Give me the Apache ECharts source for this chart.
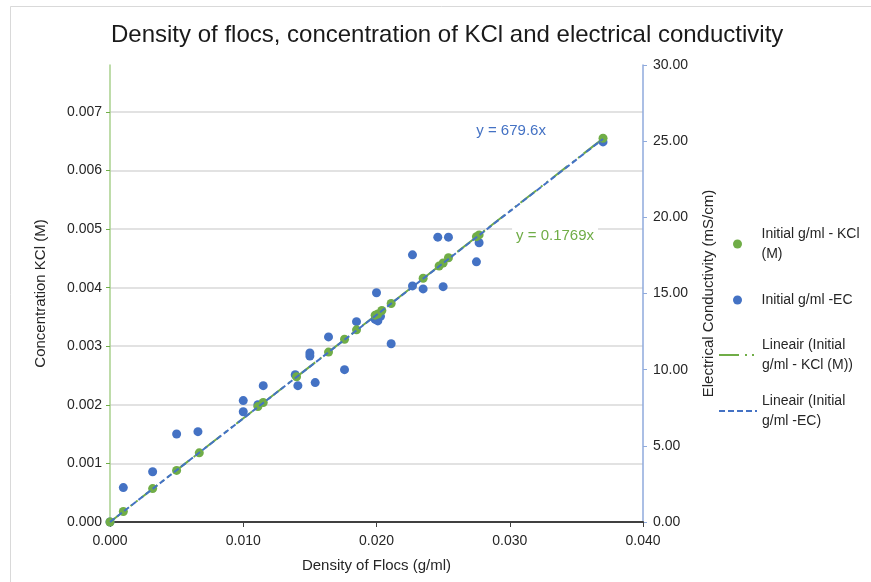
<!DOCTYPE html>
<html>
<head>
<meta charset="utf-8">
<script src="https://cdn.jsdelivr.net/npm/echarts@6/dist/echarts.min.js"></script>
<style>
  html, body { margin: 0; padding: 0; background: #fff; }
  #chart { width: 871px; height: 582px; }
</style>
</head>
<body>
<div id="chart"></div>
<script>
// Initial density of flocs (g/ml) against KCl concentration (M)
const kclDensity = [0, 0.0010, 0.0032, 0.0050, 0.0067, 0.0111, 0.0115, 0.0140, 0.0164, 0.0176, 0.0185,
  0.0199, 0.0201, 0.0204, 0.0211, 0.0235, 0.0247, 0.0250, 0.0254, 0.0275, 0.0277, 0.0370];
const kclConc = [0, 0.00018, 0.00057, 0.00088, 0.00118, 0.00197, 0.00204, 0.00248, 0.00290, 0.00312, 0.00328,
  0.00353, 0.00355, 0.00361, 0.00373, 0.00416, 0.00437, 0.00442, 0.00451, 0.00487, 0.00490, 0.00655];

// Initial density of flocs (g/ml) against electrical conductivity (mS/cm)
const ecDensity = [0, 0.0010, 0.0032, 0.0050, 0.0066, 0.0100, 0.0100, 0.0111, 0.0115, 0.0139, 0.0141,
  0.0150, 0.0150, 0.0154, 0.0164, 0.0176, 0.0185, 0.0199, 0.0200, 0.0201, 0.0203, 0.0211,
  0.0227, 0.0227, 0.0235, 0.0246, 0.0250, 0.0254, 0.0275, 0.0277, 0.0370];
const ecValue = [0, 2.26, 3.30, 5.78, 5.93, 7.97, 7.24, 7.70, 8.95, 9.67, 8.95,
  11.10, 10.90, 9.15, 12.15, 10.00, 13.15, 13.30, 15.05, 13.20, 13.50, 11.70,
  17.54, 15.50, 15.30, 18.70, 15.45, 18.70, 17.08, 18.33, 24.95];

// Linear fits through the origin
const kclSlope = 0.1769;
const ecSlope = 679.6;
const fitRange = [0, 0.037];

// Axis tick settings
const xTicks = { min: 0, max: 0.04, step: 0.01 };
const leftTicks = { min: 0, max: 0.0078, step: 0.001 };
const rightTicks = { min: 0, max: 30, step: 5 };

const seriesNames = {
  kcl: 'Initial g/ml - KCl (M)',
  ec: 'Initial g/ml -EC',
  kclFit: 'Lineair (Initial g/ml - KCl (M))',
  ecFit: 'Lineair (Initial g/ml -EC)'
};
const legendLabels = {};
legendLabels[seriesNames.kcl] = 'Initial g/ml - KCl\n(M)';
legendLabels[seriesNames.ec] = 'Initial g/ml -EC';
legendLabels[seriesNames.kclFit] = 'Lineair (Initial\ng/ml - KCl (M))';
legendLabels[seriesNames.ecFit] = 'Lineair (Initial\ng/ml -EC)';

const GREEN = '#70ad47';
const BLUE = '#4472c4';
const FONT = '"Liberation Sans", Arial, sans-serif';
const TEXT = '#262626';
const GREEN_DASH = [20, 6, 2, 5, 2, 5];
const BLUE_DASH = [6, 3];

const zip = (xs, ys) => xs.map((x, i) => [x, ys[i]]);
const fitLine = slope => fitRange.map(x => [x, slope * x]);

// One legend block per entry so every entry can sit exactly where it belongs
function legendItem(name, left, top, twoLines, lineStyle) {
  const item = {
    show: true,
    left: left,
    top: top,
    padding: 0,
    itemWidth: 38,
    itemHeight: 9,
    selectedMode: false,
    data: [name],
    formatter: n => legendLabels[n],
    textStyle: {
      fontFamily: FONT, fontSize: 14, lineHeight: 20, color: TEXT,
      padding: twoLines ? [20, 0, 0, 0] : 0
    }
  };
  if (lineStyle) {
    item.lineStyle = lineStyle;
    item.itemStyle = { opacity: 0, borderWidth: 0 };
  }
  return item;
}

const chart = echarts.init(document.getElementById('chart'), null, { renderer: 'canvas' });

chart.setOption({
  backgroundColor: '#ffffff',
  animation: false,
  textStyle: { fontFamily: FONT },
  title: {
    text: 'Density of flocs, concentration of KCl and electrical conductivity',
    left: 111,
    top: 23,
    padding: 0,
    textStyle: { fontFamily: FONT, fontSize: 24, fontWeight: 'normal', color: '#1a1a1a' }
  },
  graphic: [{
    type: 'rect',
    shape: { x: 10.5, y: 6.5, width: 900, height: 700 },
    style: { fill: 'none', stroke: '#d9d9d9', lineWidth: 1 },
    silent: true
  }],
  legend: [
    legendItem(seriesNames.kcl, 733, 214, true),
    legendItem(seriesNames.ec, 733, 290, false),
    legendItem(seriesNames.kclFit, 718, 325, true, { color: GREEN, width: 2, type: GREEN_DASH }),
    legendItem(seriesNames.ecFit, 718, 381, true, { color: BLUE, width: 2, type: BLUE_DASH })
  ],
  grid: { left: 110, right: 228, top: 65, bottom: 60, containLabel: false },
  xAxis: {
    type: 'value',
    min: xTicks.min, max: xTicks.max, interval: xTicks.step,
    name: 'Density of Flocs (g/ml)',
    nameLocation: 'middle',
    nameGap: 36,
    nameTextStyle: { fontFamily: FONT, fontSize: 15, color: TEXT },
    axisLine: { show: true, lineStyle: { color: '#404040', width: 2 } },
    axisTick: { show: true, length: 5, lineStyle: { color: '#404040', width: 1 } },
    axisLabel: { fontFamily: FONT, fontSize: 14, color: TEXT, margin: 12,
      formatter: v => v.toFixed(3) },
    splitLine: { show: false }
  },
  yAxis: [{
    type: 'value',
    position: 'left',
    min: leftTicks.min, max: leftTicks.max, interval: leftTicks.step,
    name: 'Concentration KCl (M)',
    nameLocation: 'middle',
    nameGap: 62,
    nameTextStyle: { fontFamily: FONT, fontSize: 15, color: TEXT },
    axisLine: { show: true, lineStyle: { color: '#a9d18e', width: 1.5 } },
    axisTick: { show: true, length: 4, lineStyle: { color: GREEN } },
    axisLabel: { fontFamily: FONT, fontSize: 14, color: TEXT, margin: 8,
      showMaxLabel: false,
      formatter: v => (Math.abs(v / leftTicks.step - Math.round(v / leftTicks.step)) < 1e-6 ? v.toFixed(3) : '') },
    splitLine: { show: true, showMaxLine: false, lineStyle: { color: '#d9d9d9', width: 1.5 } }
  }, {
    type: 'value',
    position: 'right',
    min: rightTicks.min, max: rightTicks.max, interval: rightTicks.step,
    name: 'Electrical Conductivity (mS/cm)',
    nameLocation: 'middle',
    nameGap: 58,
    nameRotate: 90,
    nameTextStyle: { fontFamily: FONT, fontSize: 15, color: TEXT },
    axisLine: { show: true, lineStyle: { color: '#8faadc', width: 1.5 } },
    axisTick: { show: true, length: 4, lineStyle: { color: '#8faadc' } },
    axisLabel: { fontFamily: FONT, fontSize: 14, color: TEXT, margin: 10,
      formatter: v => v.toFixed(2) },
    splitLine: { show: false }
  }],
  series: [{
    name: seriesNames.kclFit,
    type: 'line',
    yAxisIndex: 0,
    data: fitLine(kclSlope),
    symbol: 'none',
    z: 1,
    lineStyle: { color: GREEN, width: 2, type: GREEN_DASH },
    itemStyle: { color: GREEN },
    markPoint: {
      symbol: 'circle', symbolSize: 0,
      data: [{ coord: [0.0334, 0.00488] }],
      label: {
        show: true, formatter: 'y = 0.1769x', position: 'inside',
        fontFamily: FONT, fontSize: 15, color: GREEN,
        backgroundColor: '#ffffff', padding: [2, 4]
      }
    }
  }, {
    name: seriesNames.kcl,
    type: 'scatter',
    yAxisIndex: 0,
    data: zip(kclDensity, kclConc),
    symbol: 'circle',
    symbolSize: 9,
    z: 3,
    itemStyle: { color: GREEN, opacity: 1 }
  }, {
    name: seriesNames.ec,
    type: 'scatter',
    yAxisIndex: 1,
    data: zip(ecDensity, ecValue),
    symbol: 'circle',
    symbolSize: 9,
    z: 2,
    itemStyle: { color: BLUE, opacity: 1 }
  }, {
    name: seriesNames.ecFit,
    type: 'line',
    yAxisIndex: 1,
    data: fitLine(ecSlope),
    symbol: 'none',
    z: 4,
    lineStyle: { color: BLUE, width: 2, type: BLUE_DASH },
    itemStyle: { color: BLUE },
    markPoint: {
      symbol: 'circle', symbolSize: 0,
      data: [{ coord: [0.0301, 25.67] }],
      label: {
        show: true, formatter: 'y = 679.6x', position: 'inside',
        fontFamily: FONT, fontSize: 15, color: BLUE
      }
    }
  }]
});
</script>
</body>
</html>
